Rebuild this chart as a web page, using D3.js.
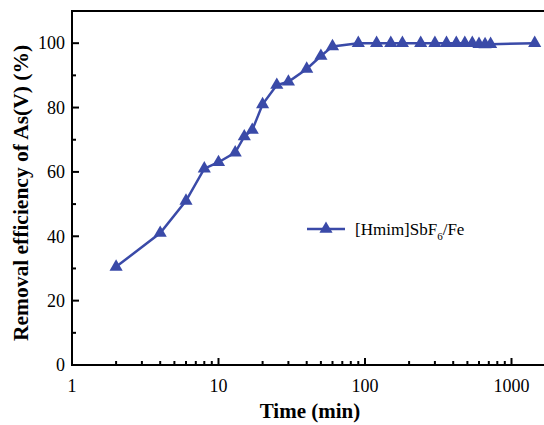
<!DOCTYPE html>
<html lang="en">
<head>
<meta charset="UTF-8">
<title>Removal efficiency of As(V)</title>
<script src="https://d3js.org/d3.v7.min.js"></script>
<style>
  body { margin: 0; background: #fff; }
</style>
</head>
<body>
<div id="chart"></div>
<script>
// data
var times = [2, 4, 6, 8, 10, 13, 15, 17, 20, 25, 30, 40, 50, 60,
             90, 120, 150, 180, 240, 300, 360, 420, 480, 540, 600, 660, 720, 1440];
var efficiency = [30.5, 41, 51, 61, 63, 66, 71, 73, 81, 87, 88, 92, 96, 99,
                  100, 100, 100, 100, 100, 100, 100, 100, 100, 100, 99.7, 99.6, 99.7, 100];
var xTicks = [1, 10, 100, 1000];
var yTicks = [0, 20, 40, 60, 80, 100];
var seriesName = "[Hmim]SbF";

var W = 544, H = 425;
var mLeft = 72, mBottom = 365, mTop = 11;
var color = "#3a4aa8";
var serif = "'Liberation Serif', 'Times New Roman', serif";

var svg = d3.select("#chart").append("svg")
    .attr("width", W).attr("height", H)
    .attr("font-family", serif);

var x = d3.scaleLog().domain([1, Math.pow(10, 3.3)]).range([mLeft, mLeft + 146.5 * 3.3]);
var y = d3.scaleLinear().domain([0, 110]).range([mBottom, mTop]);

// minor ticks
var xMinor = [];
[1, 10, 100, 1000].forEach(function (d) {
    for (var k = 2; k <= 9; k++) if (d * k < x.domain()[1]) xMinor.push(d * k);
});
var yMinor = [10, 30, 50, 70, 90];

// bottom axis (ticks inward)
var gx = svg.append("g").attr("transform", "translate(0," + mBottom + ")");
gx.append("line").attr("x1", mLeft).attr("x2", W + 5).attr("stroke", "#000").attr("stroke-width", 2);
gx.selectAll(".maj").data(xTicks).enter().append("line")
    .attr("x1", function (d) { return x(d); }).attr("x2", function (d) { return x(d); })
    .attr("y1", 0).attr("y2", -7).attr("stroke", "#000").attr("stroke-width", 2);
gx.selectAll(".min").data(xMinor).enter().append("line")
    .attr("x1", function (d) { return x(d); }).attr("x2", function (d) { return x(d); })
    .attr("y1", 0).attr("y2", -4).attr("stroke", "#000").attr("stroke-width", 2);
gx.selectAll(".lab").data(xTicks).enter().append("text")
    .attr("x", function (d) { return x(d); }).attr("y", 27)
    .attr("text-anchor", "middle").attr("font-size", 18).text(function (d) { return d; });

// left axis
var gy = svg.append("g").attr("transform", "translate(" + mLeft + ",0)");
gy.append("line").attr("y1", mTop).attr("y2", mBottom + 1).attr("stroke", "#000").attr("stroke-width", 2);
gy.selectAll(".maj").data(yTicks).enter().append("line")
    .attr("y1", function (d) { return y(d); }).attr("y2", function (d) { return y(d); })
    .attr("x1", 0).attr("x2", 7).attr("stroke", "#000").attr("stroke-width", 2);
gy.selectAll(".min").data(yMinor).enter().append("line")
    .attr("y1", function (d) { return y(d); }).attr("y2", function (d) { return y(d); })
    .attr("x1", 0).attr("x2", 4).attr("stroke", "#000").attr("stroke-width", 2);
gy.selectAll(".lab").data(yTicks).enter().append("text")
    .attr("x", -7).attr("y", function (d) { return y(d); }).attr("dy", "0.35em")
    .attr("text-anchor", "end").attr("font-size", 18).text(function (d) { return d; });

// top frame
svg.append("line").attr("x1", mLeft - 1).attr("x2", W + 5).attr("y1", mTop).attr("y2", mTop)
    .attr("stroke", "#000").attr("stroke-width", 2);

// axis titles
svg.append("text").attr("x", 310).attr("y", 418).attr("text-anchor", "middle")
    .attr("font-size", 21).attr("font-weight", "bold").text("Time (min)");
svg.append("text").attr("transform", "translate(28," + 193 + ") rotate(-90)")
    .attr("text-anchor", "middle").attr("font-size", 21.5).attr("font-weight", "bold")
    .text("Removal efficiency of As(V) (%)");

// series
var pts = times.map(function (t, i) { return { t: t, v: efficiency[i] }; });
var line = d3.line().x(function (d) { return x(d.t); }).y(function (d) { return y(d.v); });
svg.append("path").datum(pts).attr("d", line)
    .attr("fill", "none").attr("stroke", color).attr("stroke-width", 2.5);
var tri = d3.symbol().type(d3.symbolTriangle).size(75);
svg.selectAll(".pt").data(pts).enter().append("path")
    .attr("d", tri)
    .attr("transform", function (d) { return "translate(" + x(d.t) + "," + y(d.v) + ")"; })
    .attr("fill", color);

// legend
var lg = svg.append("g").attr("transform", "translate(307,229)");
lg.append("line").attr("x1", 0).attr("x2", 38).attr("stroke", color).attr("stroke-width", 2.5);
lg.append("path").attr("d", tri).attr("transform", "translate(19,0)").attr("fill", color);
var lt = lg.append("text").attr("x", 48).attr("y", 6).attr("font-size", 17);
lt.append("tspan").text(seriesName);
lt.append("tspan").attr("font-size", 11).attr("dy", 5).text("6");
lt.append("tspan").attr("dy", -5).text("/Fe");
</script>
</body>
</html>
